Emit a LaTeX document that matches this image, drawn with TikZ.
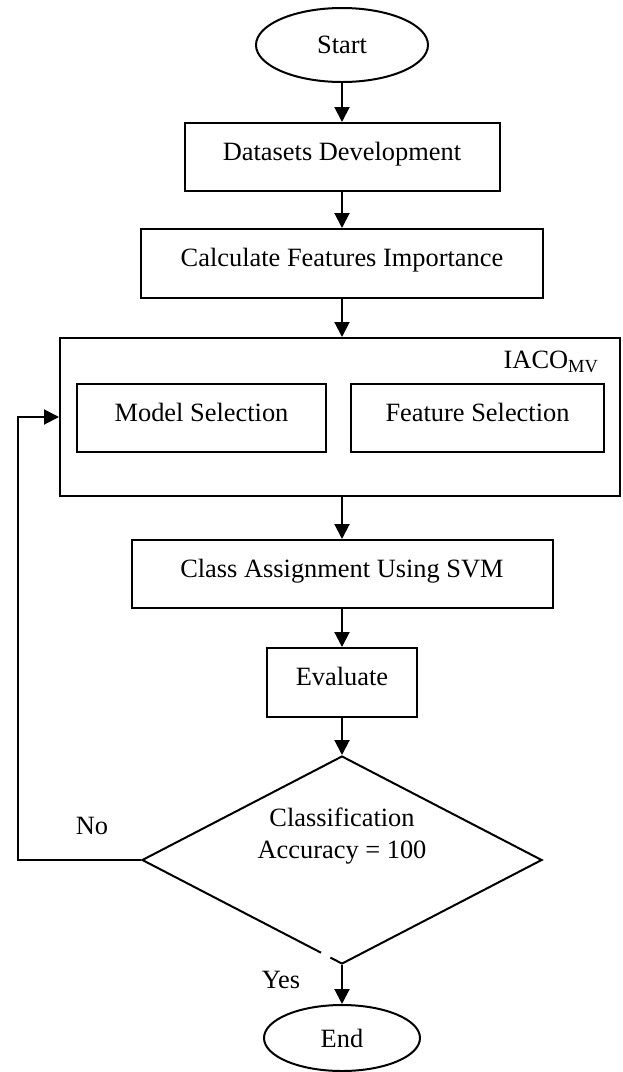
\documentclass[tikz,border=0pt]{standalone}
\usepackage{fontspec}
\setmainfont{Liberation Serif}
\usetikzlibrary{arrows.meta}
\usetikzlibrary{shapes.geometric}

\tikzset{
  procbox/.style={draw, line width=2pt, rectangle, inner sep=0pt, text height=19pt, text depth=13pt},
  termnode/.style={draw, line width=2pt, ellipse, inner sep=0pt},
  decision/.style={draw, line width=2pt, diamond, inner sep=0pt, minimum width=400pt, minimum height=208pt},
  flowarrow/.style={line width=2pt, -{Triangle[length=15pt,width=15pt]}},
}

\begin{document}
\begin{tikzpicture}[x=1pt, y=-1pt, font=\fontsize{26.4pt}{32pt}\selectfont]
    \useasboundingbox (0,0) rectangle (623,1072);
    \node[termnode, minimum width=172pt, minimum height=74pt] (start) at (342,45) {Start};
    \node[procbox, minimum width=315pt, minimum height=68pt] (datasets) at (342,157) {Datasets Development};
    \node[procbox, minimum width=402pt, minimum height=69pt] (importance) at (342,263.5) {Calculate Features Importance};
    \node[procbox, minimum width=560pt, minimum height=158pt] (iaco) at (340,417) {};
    \node[anchor=east] (iacolabel) at (602,362) {IACO\textsubscript{MV}};
    \node[procbox, minimum width=249pt, minimum height=68pt] (modelsel) at (201.5,418) {Model Selection};
    \node[procbox, minimum width=253pt, minimum height=68pt] (featsel) at (477.5,418) {Feature Selection};
    \node[procbox, minimum width=421pt, minimum height=68pt] (svm) at (342,574) {Class Assignment Using SVM};
    \node[procbox, minimum width=150pt, minimum height=69pt] (evaluate) at (342,682.5) {Evaluate};
    \node[decision] (check) at (342,860) {};
    \node[align=center] (checktext) at (342,836) {Classification\\Accuracy = 100};
    \node[termnode, minimum width=156pt, minimum height=66pt] (finish) at (342,1038) {End};
    \node (nolabel) at (92,826) {No};
    \node (yeslabel) at (281,980) {Yes};
    \coordinate (loopx) at (18,0);

    \draw[flowarrow] (start) -- (datasets);
    \draw[flowarrow] (datasets) -- (importance);
    \draw[flowarrow] (importance) -- (importance |- iaco.north);
    \draw[flowarrow] (svm |- iaco.south) -- (svm);
    \draw[flowarrow] (svm) -- (evaluate);
    \draw[flowarrow] (evaluate) -- (check);
    \draw[flowarrow] (check) -- (finish);
    \draw[flowarrow] (check.west) -- (check.west -| loopx) |- (iaco.west);
    % small break in the lower edge of the diamond
    \draw[white, line width=4pt] (321,953) -- (330,958);
  \end{tikzpicture}
\end{document}
